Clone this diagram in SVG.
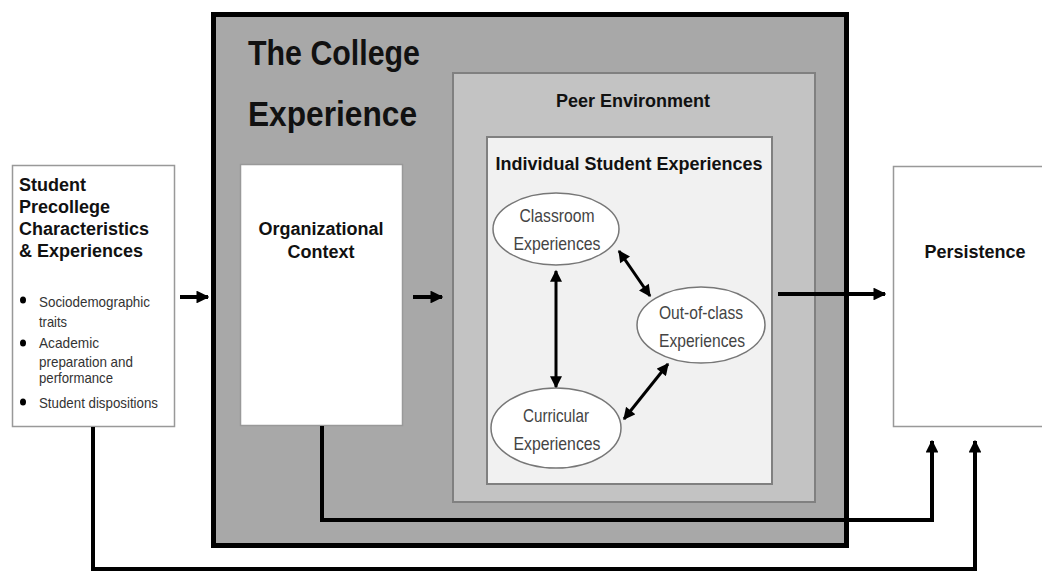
<svg xmlns="http://www.w3.org/2000/svg" width="1042" height="571" viewBox="0 0 1042 571">
<defs>
<style>
.hd{font-family:"Liberation Sans",Arial,sans-serif;font-weight:bold;font-size:18px;fill:#111}
.ti{font-family:"Liberation Sans",Arial,sans-serif;font-weight:bold;font-size:35px;fill:#111}
.bl{font-family:"Liberation Sans",Arial,sans-serif;font-size:15px;fill:#333}
.el{font-family:"Liberation Sans",Arial,sans-serif;font-size:19px;fill:#444;text-anchor:middle}
.box{fill:#fff;stroke:#999;stroke-width:1.5}
.ell{fill:#fff;stroke:#777;stroke-width:1.5}
.con{fill:none;stroke:#000;stroke-width:4}
.dbl{fill:none;stroke:#000;stroke-width:3}
</style>
<marker id="ah" viewBox="0 0 10 10" refX="9" refY="5" markerWidth="3.2" markerHeight="3.2" orient="auto" markerUnits="strokeWidth">
<path d="M0,0 L10,5 L0,10 z" fill="#000"/>
</marker>
<marker id="ahs" viewBox="0 0 10 10" refX="9" refY="5" markerWidth="4.3" markerHeight="4" orient="auto-start-reverse" markerUnits="strokeWidth">
<path d="M0,0 L10,5 L0,10 z" fill="#000"/>
</marker>
</defs>
<rect width="1042" height="571" fill="#fff"/>

<g id="college">
<rect x="213.5" y="14.5" width="633" height="531" fill="#a8a8a8" stroke="#000" stroke-width="5"/>
<text class="ti" x="248" y="65" textLength="172" lengthAdjust="spacingAndGlyphs">The College</text>
<text class="ti" x="248" y="126" textLength="169" lengthAdjust="spacingAndGlyphs">Experience</text>
</g>

<g id="peer">
<rect x="453" y="73" width="362" height="429" fill="#c3c3c3" stroke="#808080" stroke-width="2"/>
<text class="hd" x="633" y="107" text-anchor="middle">Peer Environment</text>
</g>

<g id="individual">
<rect x="487" y="137" width="285" height="347" fill="#f1f1f1" stroke="#808080" stroke-width="2"/>
<text class="hd" x="629" y="170" text-anchor="middle">Individual Student Experiences</text>
</g>

<g id="precollege">
<rect class="box" x="12.5" y="165.5" width="162" height="261"/>
<text class="hd" x="19" y="191">Student</text>
<text class="hd" x="19" y="213">Precollege</text>
<text class="hd" x="19" y="235">Characteristics</text>
<text class="hd" x="19" y="257">&amp; Experiences</text>
<ellipse cx="23" cy="300" rx="3" ry="3.5" fill="#000"/>
<ellipse cx="23" cy="343" rx="3" ry="3.5" fill="#000"/>
<ellipse cx="23" cy="402" rx="3" ry="3.5" fill="#000"/>
<text class="bl" x="39" y="307" textLength="111" lengthAdjust="spacingAndGlyphs">Sociodemographic</text>
<text class="bl" x="39" y="327" textLength="28" lengthAdjust="spacingAndGlyphs">traits</text>
<text class="bl" x="39" y="348" textLength="60" lengthAdjust="spacingAndGlyphs">Academic</text>
<text class="bl" x="39" y="367" textLength="94" lengthAdjust="spacingAndGlyphs">preparation and</text>
<text class="bl" x="39" y="383" textLength="74" lengthAdjust="spacingAndGlyphs">performance</text>
<text class="bl" x="39" y="408" textLength="119" lengthAdjust="spacingAndGlyphs">Student dispositions</text>
</g>

<g id="organizational">
<rect class="box" x="240.5" y="164.5" width="162" height="261"/>
<text class="hd" x="321" y="235" text-anchor="middle">Organizational</text>
<text class="hd" x="321" y="258" text-anchor="middle">Context</text>
</g>

<g id="classroom">
<ellipse class="ell" cx="556" cy="229" rx="63" ry="36"/>
<text class="el" x="557" y="222" textLength="75" lengthAdjust="spacingAndGlyphs">Classroom</text>
<text class="el" x="557" y="250" textLength="87" lengthAdjust="spacingAndGlyphs">Experiences</text>
</g>

<g id="outofclass">
<ellipse class="ell" cx="701" cy="325" rx="64" ry="38"/>
<text class="el" x="701" y="319" textLength="84" lengthAdjust="spacingAndGlyphs">Out-of-class</text>
<text class="el" x="702" y="347" textLength="86" lengthAdjust="spacingAndGlyphs">Experiences</text>
</g>

<g id="curricular">
<ellipse class="ell" cx="556" cy="428" rx="65" ry="40"/>
<text class="el" x="556" y="422" textLength="66" lengthAdjust="spacingAndGlyphs">Curricular</text>
<text class="el" x="557" y="450" textLength="87" lengthAdjust="spacingAndGlyphs">Experiences</text>
</g>

<g id="persistence">
<path d="M1043,166.5 H893.5 V426.5 H1043" fill="#fff" stroke="#999" stroke-width="1.5"/>
<text class="hd" x="975" y="258" text-anchor="middle">Persistence</text>
</g>

<g id="connectors">
<line class="con" x1="180" y1="297" x2="208" y2="297" marker-end="url(#ah)"/>
<line class="con" x1="413" y1="297" x2="442" y2="297" marker-end="url(#ah)"/>
<line class="con" x1="778" y1="294" x2="885" y2="294" marker-end="url(#ah)"/>
<polyline class="con" points="322,426 322,520 932,520 932,441" marker-end="url(#ah)"/>
<polyline class="con" points="93,427 93,569 975,569 975,441" marker-end="url(#ah)"/>
<line class="dbl" x1="556" y1="271" x2="556" y2="387" marker-start="url(#ahs)" marker-end="url(#ahs)"/>
<line class="dbl" x1="619" y1="251" x2="650" y2="296" marker-start="url(#ahs)" marker-end="url(#ahs)"/>
<line class="dbl" x1="668" y1="364" x2="624" y2="419" marker-start="url(#ahs)" marker-end="url(#ahs)"/>
</g>
</svg>
